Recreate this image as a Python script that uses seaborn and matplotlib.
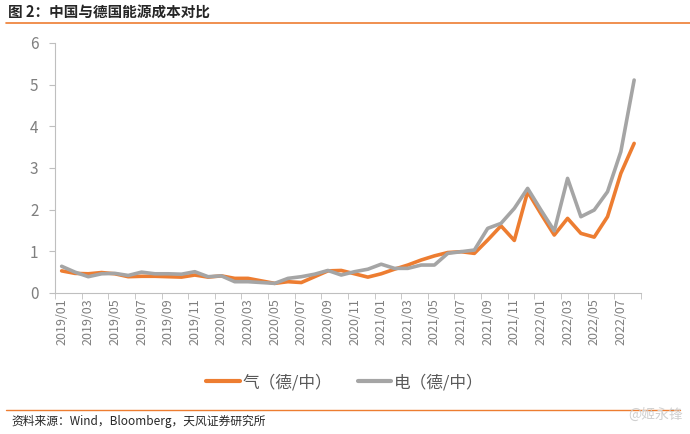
import seaborn as sns
import matplotlib.pyplot as plt
import matplotlib.lines as mlines
import pandas as pd

months = [f"{y}/{m:02d}" for y in range(2019, 2023) for m in range(1, 13)][:44]
gas = [0.53, 0.47, 0.46, 0.49, 0.46, 0.39, 0.40, 0.40, 0.39, 0.38,
       0.43, 0.38, 0.41, 0.35, 0.35, 0.29, 0.23, 0.27, 0.25, 0.39,
       0.53, 0.54, 0.46, 0.38, 0.46, 0.57, 0.67, 0.79, 0.89, 0.97,
       0.99, 0.95, 1.27, 1.61, 1.26, 2.43, 1.90, 1.39, 1.79, 1.43,
       1.34, 1.83, 2.87, 3.59]
power = [0.64, 0.50, 0.39, 0.46, 0.47, 0.42, 0.50, 0.46, 0.46, 0.45,
         0.51, 0.39, 0.41, 0.27, 0.27, 0.25, 0.23, 0.35, 0.39, 0.45,
         0.54, 0.43, 0.51, 0.57, 0.69, 0.59, 0.59, 0.67, 0.67, 0.95,
         0.99, 1.03, 1.55, 1.67, 2.03, 2.51, 1.99, 1.49, 2.75, 1.83,
         1.99, 2.43, 3.39, 5.11]
series_names = ["气（德/中）", "电（德/中）"]
colors = ["#ED7D31", "#A5A5A5"]

df = pd.DataFrame({"idx": list(range(len(months))) * 2,
                   "value": gas + power,
                   "series": [series_names[0]] * len(gas) + [series_names[1]] * len(power)})

sns.set_style("white")
plt.rcParams['font.family'] = ['Noto Sans CJK SC', 'DejaVu Sans']

fig = plt.figure(figsize=(6.9, 4.34), dpi=100)
ax = fig.add_axes([0.0797, 0.325, 0.849, 0.576])
sns.lineplot(data=df, x="idx", y="value", hue="series", palette=colors,
             linewidth=2.6, ax=ax, legend=False)

ax.set_xlim(-0.5, len(months) - 0.5)
ax.set_ylim(0, 6)
ax.set_yticks(range(0, 7))
ax.set_xticks(range(0, len(months), 2))
ax.set_xticklabels(months[::2], rotation=90)
ax.set_xticks([i - 0.5 for i in range(0, len(months) + 1, 2)], minor=True)
ax.tick_params(axis='x', which='major', length=0, labelsize=9, labelcolor='#7F7F7F', pad=4)
ax.tick_params(axis='x', which='minor', length=4, color='#BFBFBF', direction='out', bottom=True)
ax.tick_params(axis='y', length=4, color='#BFBFBF', direction='out', left=True,
               labelsize=11, labelcolor='#7F7F7F', pad=8)
ax.set_xlabel("")
ax.set_ylabel("")
for s in ['top', 'right']:
    ax.spines[s].set_visible(False)
for s in ['left', 'bottom']:
    ax.spines[s].set_color('#BFBFBF')
    ax.spines[s].set_linewidth(0.8)

handles = [mlines.Line2D([], [], color=c, linewidth=3) for c in colors]
fig.legend(handles, series_names, loc='center', bbox_to_anchor=(0.5, 0.118), ncol=2,
           frameon=False, fontsize=12, handlelength=2.0, columnspacing=1.5,
           labelcolor='#595959', handletextpad=0.2)

fig.text(0.012, 0.972, "图 2：中国与德国能源成本对比", fontsize=10.5, fontweight='bold',
         color='#262626', va='center', ha='left')
fig.add_artist(mlines.Line2D([0.008, 1.0], [0.948, 0.948], color='#ED7D31', linewidth=1.2))
fig.add_artist(mlines.Line2D([0.008, 0.985], [0.055, 0.055], color='#ED7D31', linewidth=1.0))
fig.text(0.016, 0.028, "资料来源：Wind，Bloomberg，天风证券研究所", fontsize=8.5,
         color='#262626', va='center', ha='left')
fig.text(0.99, 0.045, "@姬永锋", fontsize=10, color='#D0D0D0', va='center', ha='right')

fig.savefig("out.png", dpi=100)
